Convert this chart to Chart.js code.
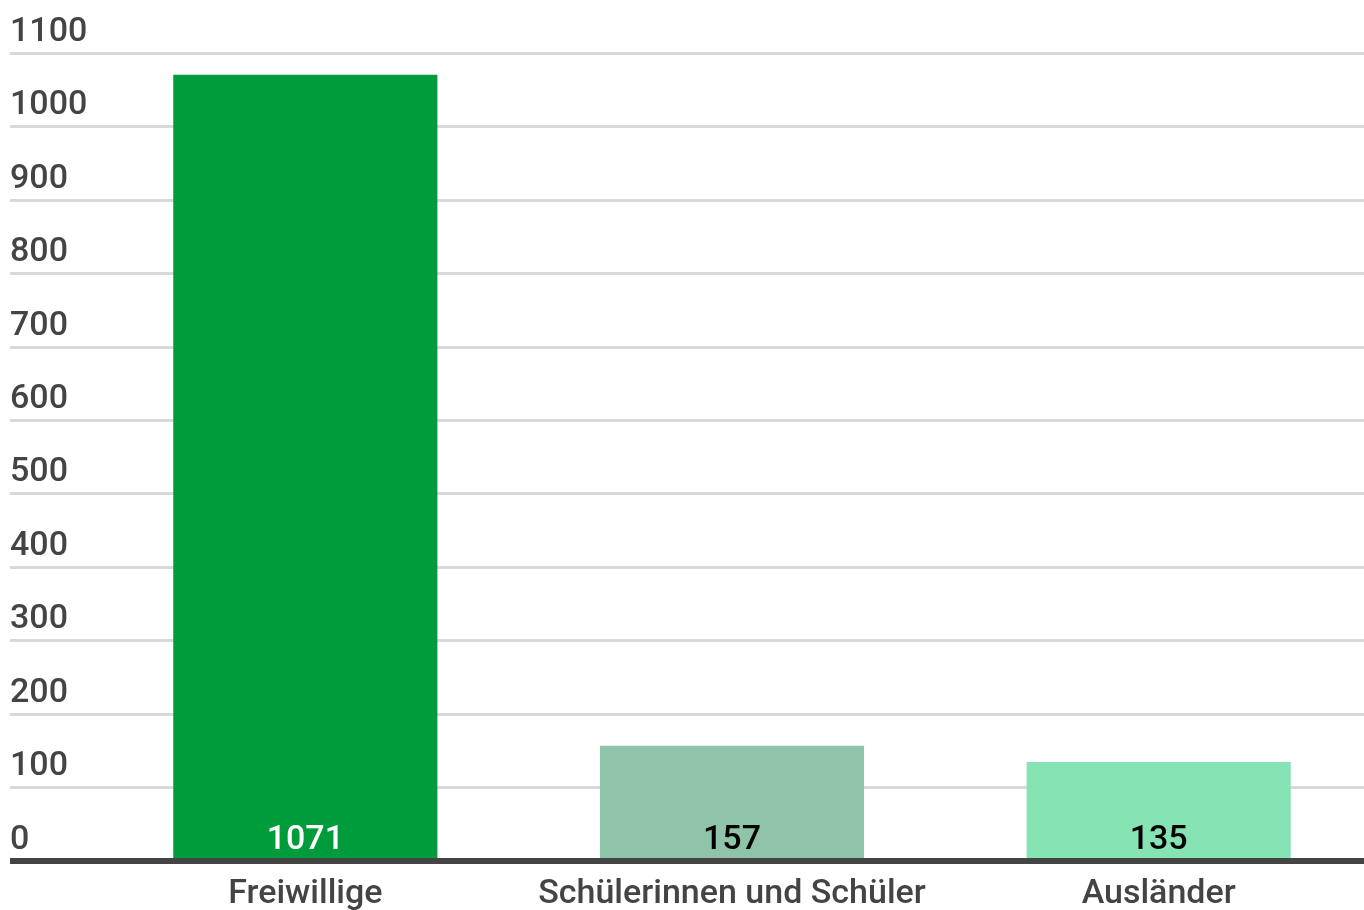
<!DOCTYPE html>
<html>
<head>
<meta charset="utf-8">
<script src="https://cdn.jsdelivr.net/npm/chart.js@4"></script>
<style>
  html, body { margin: 0; padding: 0; background: #fff; overflow: hidden; }
  .chart-box { width: 1372px; height: 930px; position: relative; }
</style>
</head>
<body>
<div class="chart-box"><canvas id="chart"></canvas></div>
<script>
const categories = ["Freiwillige", "Schülerinnen und Schüler", "Ausländer"];
const values = [1071, 157, 135];
const barColors = ["#009b3a", "#8fc4a8", "#86e4b4"];
const valueColors = ["#ffffff", "#000000", "#000000"];
const yMax = 1100;
const yStep = 100;

const FONT = "Roboto, 'Noto Sans', sans-serif";
const TEXT = "#444444";

// Werte unten im Balken
const valueLabels = {
  id: "valueLabels",
  afterDatasetsDraw(chart) {
    const { ctx } = chart;
    const meta = chart.getDatasetMeta(0);
    const base = chart.scales.y.getPixelForValue(0);
    ctx.save();
    ctx.font = "500 34px " + FONT;
    ctx.textAlign = "center";
    ctx.textBaseline = "alphabetic";
    meta.data.forEach((bar, i) => {
      ctx.fillStyle = valueColors[i];
      ctx.fillText(String(values[i]), bar.x, base - 12);
    });
    ctx.restore();
  }
};

new Chart(document.getElementById("chart"), {
  type: "bar",
  data: {
    labels: categories,
    datasets: [{
      data: values,
      backgroundColor: barColors,
      borderWidth: 0,
      barPercentage: 0.619,
      categoryPercentage: 1
    }]
  },
  options: {
    responsive: true,
    maintainAspectRatio: false,
    animation: false,
    layout: { padding: { left: 10, top: 53.5, right: 0, bottom: 0 } },
    plugins: { legend: { display: false }, tooltip: { enabled: false } },
    scales: {
      x: {
        z: 1,
        grid: { display: false, drawTicks: false },
        border: { display: true, color: TEXT, width: 6 },
        ticks: { color: TEXT, font: { family: FONT, size: 34, weight: 500 }, padding: 13 },
        afterFit: s => { s.height = 69; }
      },
      y: {
        min: 0,
        max: yMax,
        afterFit: s => { s.width = 82; },
        border: { display: false },
        grid: {
          color: c => c.tick && c.tick.value === 0 ? TEXT : "#d9d9d9",
          lineWidth: c => c.tick && c.tick.value === 0 ? 6 : 3,
          tickLength: 82
        },
        ticks: {
          stepSize: yStep,
          color: TEXT,
          font: { family: FONT, size: 34, weight: 500 },
          crossAlign: "far",
          labelOffset: -21,
          padding: 0,
          callback: v => String(v)
        }
      }
    }
  },
  plugins: [valueLabels]
});
</script>
</body>
</html>
